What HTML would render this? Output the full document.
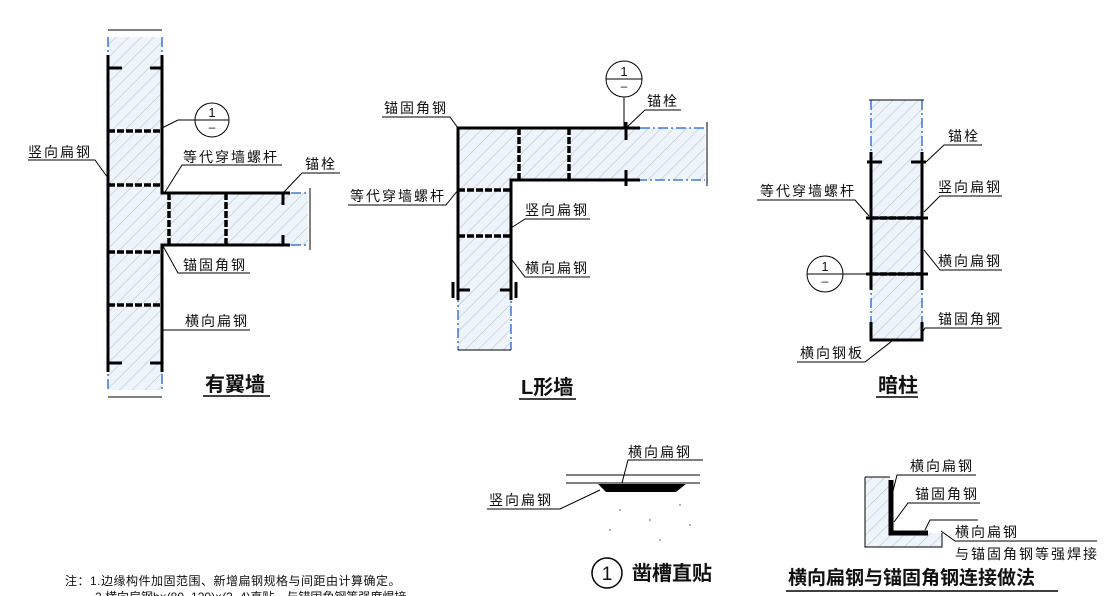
<!DOCTYPE html>
<html><head><meta charset="utf-8"><style>
html,body{margin:0;padding:0;background:#fff;}
svg{display:block;}
text{font-family:"Liberation Sans","Noto Sans CJK SC",sans-serif;fill:#111;}
.l{font-size:14px;letter-spacing:2px;}
</style></head><body>
<svg width="1104" height="596" viewBox="0 0 1104 596" xmlns="http://www.w3.org/2000/svg">
<defs>
<pattern id="h" width="9" height="9" patternUnits="userSpaceOnUse" patternTransform="rotate(45)">
<rect width="9" height="9" fill="#eef4fb"/>
<line x1="0" y1="0" x2="0" y2="9" stroke="#9aa3ad" stroke-width="0.7"/>
</pattern>
</defs>
<g font-size="13">
<!-- 有翼墙 -->
<rect x="108" y="37" width="54" height="353" fill="url(#h)"/>
<rect x="162" y="193" width="146" height="52" fill="url(#h)"/>
<g stroke="#1f5fd6" stroke-width="1.3" stroke-dasharray="10,3,2,3" fill="none">
<line x1="108" y1="37" x2="108" y2="390"/><line x1="162" y1="37" x2="162" y2="190"/><line x1="162" y1="248" x2="162" y2="390"/>
<line x1="165" y1="193" x2="308" y2="193"/><line x1="165" y1="245" x2="308" y2="245"/>
</g>
<g stroke="#000" stroke-width="3" fill="none">
<line x1="108" y1="55" x2="108" y2="372"/><line x1="162" y1="55" x2="162" y2="190"/><line x1="162" y1="245" x2="162" y2="372"/>
<polyline points="162,185 162,193 290,193"/><polyline points="162,252 162,245 290,245"/>
</g>
<g stroke="#000" stroke-width="3.5" stroke-dasharray="7,2">
<line x1="108" y1="131" x2="162" y2="131"/><line x1="108" y1="185" x2="162" y2="185"/><line x1="108" y1="252" x2="162" y2="252"/><line x1="108" y1="305" x2="162" y2="305"/>
<line x1="169" y1="193" x2="169" y2="245"/><line x1="226" y1="193" x2="226" y2="245"/>
</g>
<g stroke="#000" stroke-width="3">
<line x1="108" y1="68" x2="122" y2="68"/><line x1="150" y1="68" x2="162" y2="68"/><line x1="108" y1="363" x2="122" y2="363"/><line x1="150" y1="363" x2="162" y2="363"/>
<line x1="283" y1="193" x2="283" y2="205"/><line x1="283" y1="235" x2="283" y2="245"/>
<line x1="218" y1="193" x2="234" y2="193"/><line x1="218" y1="245" x2="234" y2="245"/>
<line x1="276" y1="193" x2="290" y2="193"/><line x1="276" y1="245" x2="290" y2="245"/>
</g>
<g stroke="#000" stroke-width="1" fill="none">
<line x1="108" y1="30" x2="162" y2="30"/><line x1="108" y1="397" x2="162" y2="397"/><line x1="310" y1="188" x2="310" y2="250"/>
<circle cx="212" cy="120" r="17" fill="#fff"/><line x1="195" y1="120" x2="229" y2="120"/><polyline points="195,120 178,120 162,128"/>
<polyline points="28,160 95,160 108,178"/>
<polyline points="282,165 182,165 165,192"/>
<polyline points="340,173 302,173 283,193"/>
<polyline points="163,246 178,273 250,273"/>
<polyline points="163,330 250,330"/>
</g>
<text x="212" y="117" font-size="13" text-anchor="middle">1</text>
<text x="212" y="131" font-size="12" text-anchor="middle">–</text>
<text class="l" x="28" y="157">竖向扁钢</text>
<text class="l" x="183" y="162">等代穿墙螺杆</text>
<text class="l" x="305" y="169">锚栓</text>
<text class="l" x="183" y="270">锚固角钢</text>
<text class="l" x="185" y="326">横向扁钢</text>
<text x="205" y="391" font-size="20" font-weight="bold">有翼墙</text>
<line x1="203" y1="396" x2="270" y2="396" stroke="#000" stroke-width="1.5"/>

<!-- L形墙 -->
<rect x="458" y="128" width="53" height="222" fill="url(#h)"/>
<rect x="511" y="128" width="194" height="52" fill="url(#h)"/>
<g stroke="#1f5fd6" stroke-width="1.3" stroke-dasharray="10,3,2,3" fill="none">
<line x1="458" y1="130" x2="458" y2="350"/><line x1="511" y1="180" x2="511" y2="350"/>
<line x1="460" y1="128" x2="705" y2="128"/><line x1="511" y1="180" x2="705" y2="180"/>
</g>
<g stroke="#000" stroke-width="3" fill="none">
<polyline points="458,300 458,128 640,128"/><polyline points="511,300 511,180 640,180"/>
</g>
<g stroke="#000" stroke-width="3.5" stroke-dasharray="7,2">
<line x1="519" y1="128" x2="519" y2="180"/><line x1="569" y1="128" x2="569" y2="180"/>
<line x1="458" y1="190" x2="511" y2="190"/><line x1="458" y1="236" x2="511" y2="236"/>
</g>
<g stroke="#000" stroke-width="3">
<line x1="626" y1="122" x2="626" y2="140"/><line x1="626" y1="170" x2="626" y2="186"/><line x1="618" y1="180" x2="634" y2="180"/><line x1="618" y1="128" x2="634" y2="128"/>
<line x1="511" y1="128" x2="527" y2="128"/><line x1="561" y1="128" x2="577" y2="128"/><line x1="561" y1="180" x2="577" y2="180"/>
<line x1="458" y1="290" x2="470" y2="290"/><line x1="500" y1="290" x2="511" y2="290"/><line x1="453" y1="282" x2="453" y2="298"/><line x1="516" y1="282" x2="516" y2="298"/>
</g>
<g stroke="#000" stroke-width="1" fill="none">
<line x1="458" y1="350" x2="511" y2="350"/><line x1="707" y1="122" x2="707" y2="186"/>
<circle cx="624" cy="79" r="18" fill="#fff"/><line x1="606" y1="79" x2="642" y2="79"/><line x1="624" y1="97" x2="624" y2="128"/>
<polyline points="382,117 450,117 458,128"/>
<polyline points="681,110 645,110 626,128"/>
<polyline points="348,205 446,205 458,190"/>
<polyline points="590,219 525,219 511,228"/>
<polyline points="590,277 525,277 512,260"/>
</g>
<text x="624" y="76" font-size="13" text-anchor="middle">1</text>
<text x="624" y="90" font-size="12" text-anchor="middle">–</text>
<text class="l" x="384" y="113">锚固角钢</text>
<text class="l" x="647" y="106">锚栓</text>
<text class="l" x="350" y="201">等代穿墙螺杆</text>
<text class="l" x="525" y="215">竖向扁钢</text>
<text class="l" x="525" y="273">横向扁钢</text>
<text x="521" y="394" font-size="20" font-weight="bold">L形墙</text>
<line x1="519" y1="399" x2="576" y2="399" stroke="#000" stroke-width="1.5"/>

<!-- 暗柱 -->
<rect x="871" y="100" width="51" height="240" fill="url(#h)"/>
<g stroke="#1f5fd6" stroke-width="1.3" stroke-dasharray="10,3,2,3" fill="none">
<line x1="871" y1="100" x2="871" y2="330"/><line x1="922" y1="100" x2="922" y2="330"/>
</g>
<g stroke="#000" stroke-width="3" fill="none">
<line x1="871" y1="152" x2="871" y2="290"/><line x1="922" y1="152" x2="922" y2="290"/>
<polyline points="871,322 871,340 922,340 922,322"/>
</g>
<g stroke="#000" stroke-width="3.5" stroke-dasharray="7,2">
<line x1="871" y1="218" x2="922" y2="218"/><line x1="871" y1="274" x2="922" y2="274"/>
</g>
<g stroke="#000" stroke-width="3">
<line x1="867" y1="162" x2="882" y2="162"/><line x1="911" y1="162" x2="926" y2="162"/>
<line x1="866" y1="218" x2="928" y2="218"/><line x1="866" y1="274" x2="928" y2="274"/>
</g>
<g stroke="#000" stroke-width="1" fill="none">
<line x1="869" y1="100" x2="924" y2="100"/>
<circle cx="825" cy="274" r="18" fill="#fff"/><line x1="807" y1="274" x2="843" y2="274"/><line x1="843" y1="274" x2="866" y2="274"/>
<polyline points="982,145 944,145 926,162"/>
<polyline points="1002,196 940,196 924,212"/>
<polyline points="757,200 855,200 869,216"/>
<polyline points="1002,270 940,270 924,250"/>
<polyline points="1002,328 925,328 922,333"/>
<polyline points="797,362 865,362 892,341"/>
</g>
<text x="825" y="271" font-size="13" text-anchor="middle">1</text>
<text x="825" y="285" font-size="12" text-anchor="middle">–</text>
<text class="l" x="948" y="141">锚栓</text>
<text class="l" x="938" y="192">竖向扁钢</text>
<text class="l" x="760" y="196">等代穿墙螺杆</text>
<text class="l" x="938" y="266">横向扁钢</text>
<text class="l" x="938" y="324">锚固角钢</text>
<text class="l" x="800" y="358">横向钢板</text>
<text x="878" y="392" font-size="20" font-weight="bold">暗柱</text>
<line x1="876" y1="397" x2="918" y2="397" stroke="#000" stroke-width="1.5"/>

<!-- 凿槽直贴 -->
<g stroke="#000" stroke-width="1" fill="none">
<line x1="566" y1="475" x2="700" y2="475"/><line x1="566" y1="483" x2="700" y2="483"/>
<polyline points="703,460 628,460 622,483"/>
<polyline points="487,509 560,509 600,490"/>
</g>
<polygon points="598,484 686,484 676,492 606,492" fill="#000"/>
<g fill="#8899bb"><circle cx="620" cy="510" r="1"/><circle cx="650" cy="520" r="1"/><circle cx="680" cy="505" r="1"/><circle cx="610" cy="530" r="1"/><circle cx="690" cy="525" r="1"/><circle cx="660" cy="540" r="1"/></g>
<text class="l" x="628" y="457">横向扁钢</text>
<text class="l" x="489" y="505">竖向扁钢</text>
<circle cx="607" cy="573" r="15" fill="none" stroke="#000" stroke-width="1.5"/>
<text x="607" y="580" font-size="19" text-anchor="middle">1</text>
<text x="632" y="580" font-size="20" font-weight="bold">凿槽直贴</text>

<!-- 连接做法 -->
<polygon points="865,477 890,477 890,533 942,533 942,547 865,547" fill="url(#h)"/>
<g stroke="#000" stroke-width="1" fill="none">
<polyline points="865,477 865,547 942,547 942,533"/>
<line x1="865" y1="477" x2="890" y2="477"/>
<polyline points="976,475 897,475 892,495"/>
<polyline points="980,503 908,503 894,522"/>
<polyline points="978,520 930,520 925,530"/>
<polyline points="1097,541 955,541 941,531"/>
</g>
<polyline points="891,480 891,533 928,533" fill="none" stroke="#000" stroke-width="5"/>
<text class="l" x="910" y="471">横向扁钢</text>
<text class="l" x="915" y="499">锚固角钢</text>
<text class="l" x="955" y="537">横向扁钢</text>
<text class="l" x="955" y="559">与锚固角钢等强焊接</text>
<text x="788" y="584" font-size="19" font-weight="bold">横向扁钢与锚固角钢连接做法</text>
<line x1="786" y1="591" x2="1058" y2="591" stroke="#000" stroke-width="1.5"/>

<text x="65" y="585" font-size="12" letter-spacing="0.5">注：1.边缘构件加固范围、新增扁钢规格与间距由计算确定。</text>
<text x="95" y="601" font-size="12">2.横向扁钢b×(80~120)×(3~4)直贴，与锚固角钢等强度焊接。</text>
</g>
</svg>
</body></html>
